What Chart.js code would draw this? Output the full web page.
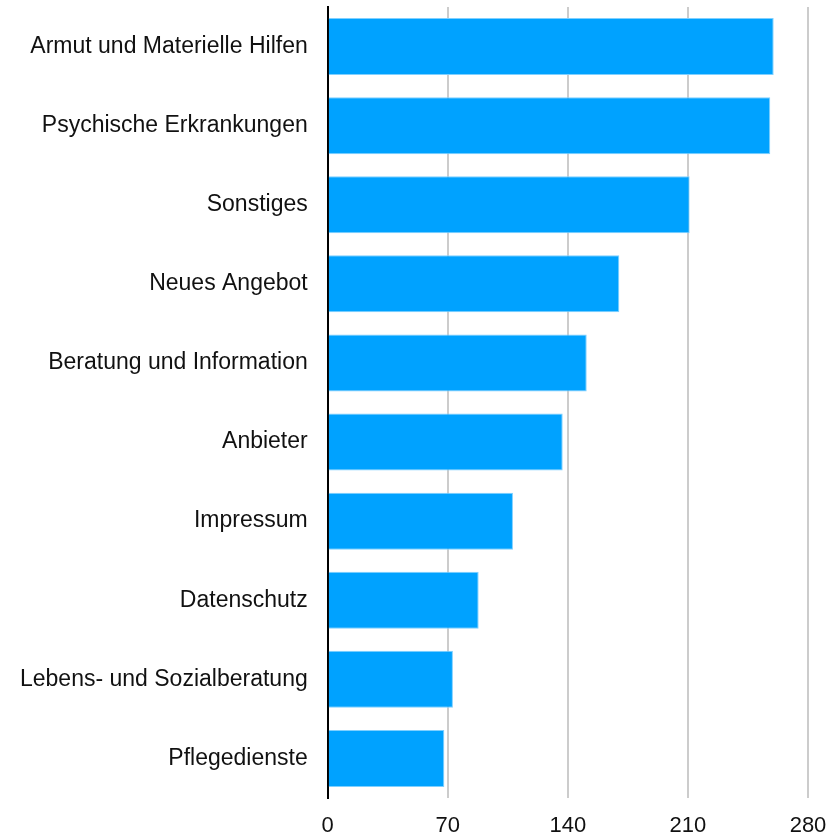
<!DOCTYPE html>
<html>
<head>
<meta charset="utf-8">
<script src="https://cdn.jsdelivr.net/npm/chart.js@4/dist/chart.umd.min.js"></script>
<style>
    html, body { margin: 0; padding: 0; background: #fff; }
    #wrap { width: 829px; height: 837px; }
</style>
</head>
<body>
<div id="wrap"><canvas id="myChart"></canvas></div>
<script>
// Categories and values
const categories = [
    "Armut und Materielle Hilfen",
    "Psychische Erkrankungen",
    "Sonstiges",
    "Neues Angebot",
    "Beratung und Information",
    "Anbieter",
    "Impressum",
    "Datenschutz",
    "Lebens- und Sozialberatung",
    "Pflegedienste"
];
const values = [260, 258, 211, 170, 151, 137, 108, 88, 73, 68];
const xTicks = [0, 70, 140, 210, 280];

const ctx = document.getElementById("myChart").getContext("2d");
new Chart(ctx, {
    type: "bar",
    data: {
        labels: categories,
        datasets: [{
            data: values,
            backgroundColor: "#00a2ff",
            borderColor: "#7fd0ff",
            borderWidth: 1,
            borderSkipped: "start",
            barPercentage: 0.72,
            categoryPercentage: 1
        }]
    },
    options: {
        indexAxis: "y",
        responsive: true,
        maintainAspectRatio: false,
        animation: false,
        layout: { padding: { top: 7, right: 21, bottom: 0, left: 0 } },
        plugins: { legend: { display: false }, tooltip: { enabled: false } },
        scales: {
            x: {
                min: 0,
                max: 280,
                afterBuildTicks: axis => { axis.ticks = xTicks.map(v => ({ value: v })); },
                afterFit: s => { s.height = 39; s.paddingRight = 0; s.paddingLeft = 0; },
                grid: { color: "#cccccc", lineWidth: 2, drawTicks: false },
                border: { display: false },
                ticks: { color: "#111", font: { family: "Liberation Sans", size: 22, lineHeight: 1 }, padding: 17 }
            },
            y: {
                afterFit: s => { s.paddingTop = 0; s.paddingBottom = 0; },
                grid: { display: false, drawTicks: false },
                border: { display: true, color: "#000", width: 2 },
                ticks: { color: "#111", font: { family: "Liberation Sans", size: 23 }, padding: 20 }
            }
        }
    }
});
</script>
</body>
</html>
